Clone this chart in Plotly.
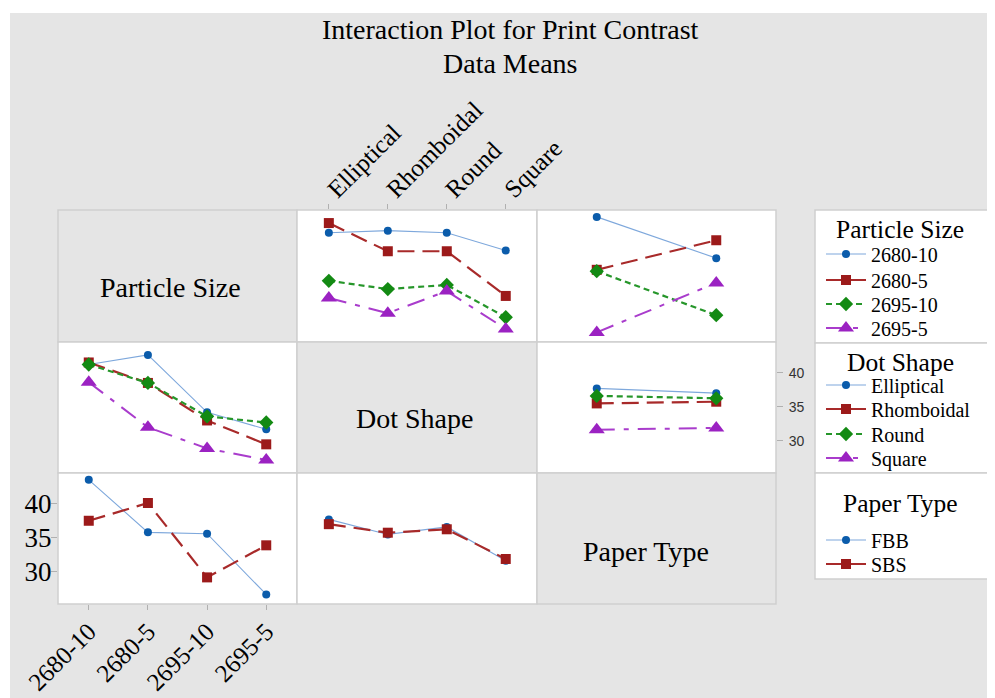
import plotly.graph_objects as go

# ---------------- data ----------------
ps_levels = ["2680-10", "2680-5", "2695-10", "2695-5"]
dot_levels = ["Elliptical", "Rhomboidal", "Round", "Square"]
paper_levels = ["FBB", "SBS"]

# mean print contrast, Particle Size (rows) x Dot Shape (cols)
ps_dot_means = [
    [41.2, 41.5, 41.2, 38.6],
    [42.6, 38.5, 38.5, 32.0],
    [34.2, 33.0, 33.6, 28.9],
    [31.7, 29.5, 32.7, 27.2],
]
# Particle Size (rows) x Paper Type (cols)
ps_paper_means = [
    [43.5, 37.5],
    [35.8, 40.1],
    [35.6, 29.2],
    [26.7, 33.9],
]
# Dot Shape (rows) x Paper Type (cols)
dot_paper_means = [
    [37.7, 37.0],
    [35.5, 35.75],
    [36.6, 36.25],
    [31.65, 31.9],
]
y_ticks = [30, 35, 40]

# ---------------- styles ----------------
OX, OY = 8, 8            # page offset of the figure inside the browser window
W, H = 995 - OX, 698 - OY
SERIF = "Liberation Serif, Times New Roman, serif"
marker_cols = ["#0b5cab", "#9c1a1a", "#138a13", "#9b22c2"]
line_cols = ["#7ea8dc", "#a82a2a", "#26962a", "#a93ccc"]
symbols = ["circle", "square", "diamond", "triangle-up"]
msizes = [8, 10, 11, 14]
dashes = ["solid", "17px,8px", "6px,4px", "18px,9px,5px,9px"]
widths = [1.1, 2.2, 2.2, 2.0]

# positions below are given in window pixels
col_px = [(58, 297), (297, 537), (537, 776)]
row_px = [(210, 342), (342, 473), (473, 604)]
xranges = [[-0.52, 3.52], [-0.54, 3.53], [-0.5, 1.5]]
x_levels = [ps_levels, dot_levels, paper_levels]
YR = [25.3, 44.5]

leg_item_y = [[254, 280, 304, 328], [385, 409, 434, 458], [540, 564]]


def fx(px):
    return (px - OX) / W


def fy(py):
    return 1 - (py - OY) / H


fig = go.Figure()


def axname(r, c):
    return r * 3 + c + 1


legend_counter = [0]
legend_layouts = {}


def new_legend(ypx):
    legend_counter[0] += 1
    n = legend_counter[0]
    key = "legend" if n == 1 else f"legend{n}"
    legend_layouts[key] = dict(
        x=fx(821), y=fy(ypx), xanchor="left", yanchor="middle",
        bgcolor="rgba(0,0,0,0)", borderwidth=0,
        font=dict(family=SERIF, size=20, color="black"),
        itemwidth=40, itemclick=False, itemdoubleclick=False)
    return key


def add_series(r, c, s, yvals, name, legend_y=None):
    k = axname(r, c)
    show = legend_y is not None
    leg = new_legend(legend_y) if show else "legend"
    fig.add_trace(go.Scatter(
        x=list(range(len(yvals))), y=yvals, name=name,
        mode="lines+markers",
        line=dict(color=line_cols[s], width=widths[s], dash=dashes[s]),
        marker=dict(color=marker_cols[s], symbol=symbols[s], size=msizes[s]),
        xaxis="x" if k == 1 else f"x{k}", yaxis="y" if k == 1 else f"y{k}",
        legend=leg, showlegend=show, hoverinfo="x+y+name",
    ))


# row 1: Particle Size traces
for i, lev in enumerate(ps_levels):
    add_series(0, 1, i, ps_dot_means[i], lev, leg_item_y[0][i])
for i, lev in enumerate(ps_levels):
    add_series(0, 2, i, ps_paper_means[i], lev)
# row 2: Dot Shape traces
for j, lev in enumerate(dot_levels):
    add_series(1, 0, j, [ps_dot_means[i][j] for i in range(4)], lev, leg_item_y[1][j])
for j, lev in enumerate(dot_levels):
    add_series(1, 2, j, dot_paper_means[j], lev)
# row 3: Paper Type traces
for p, lev in enumerate(paper_levels):
    add_series(2, 0, p, [ps_paper_means[i][p] for i in range(4)], lev, leg_item_y[2][p])
for p, lev in enumerate(paper_levels):
    add_series(2, 1, p, [dot_paper_means[j][p] for j in range(4)], lev)

layout = {}
for r in range(3):
    for c in range(3):
        k = axname(r, c)
        xk = "xaxis" if k == 1 else f"xaxis{k}"
        yk = "yaxis" if k == 1 else f"yaxis{k}"
        xa = "x" if k == 1 else f"x{k}"
        ya = "y" if k == 1 else f"y{k}"
        show_x = (r == 2 and c in (0, 2)) or (r == 0 and c == 1)
        layout[xk] = dict(
            domain=[fx(col_px[c][0]), fx(col_px[c][1])], anchor=ya,
            range=xranges[c], showgrid=False, zeroline=False, automargin=False,
            showline=False, tickvals=list(range(len(x_levels[c]))),
            ticktext=x_levels[c], showticklabels=show_x,
            ticks="outside" if show_x else "", ticklen=5, tickcolor="#b0b0b0",
            ticklabelstandoff=-9 if r == 0 else -3,
            side="top" if r == 0 else "bottom", tickangle=-45,
            tickfont=dict(family=SERIF, size=25, color="black"), fixedrange=True,
        )
        show_yl = (c == 0 and r in (0, 2))
        show_yr = (c == 2 and r == 1)
        layout[yk] = dict(
            domain=[fy(row_px[r][1]), fy(row_px[r][0])], anchor=xa,
            range=YR, showgrid=False, zeroline=False, showline=False, automargin=False,
            tickvals=y_ticks, showticklabels=show_yl or show_yr,
            ticks="outside" if (show_yl or show_yr) else "", ticklen=6,
            tickcolor="#b0b0b0",
            ticklabelstandoff=-6 if show_yl else 3,
            side="right" if show_yr else "left",
            tickfont=(dict(family=SERIF, size=27, color="black") if show_yl
                      else dict(family="Liberation Sans, Arial, sans-serif", size=14, color="#333333")),
            fixedrange=True,
        )

shapes = [dict(type="rect", xref="paper", yref="paper", x0=fx(10), x1=1.0,
               y0=0, y1=fy(13), fillcolor="#e5e5e5", line=dict(width=0), layer="below")]
for r in range(3):
    for c in range(3):
        shapes.append(dict(
            type="rect", xref="paper", yref="paper",
            x0=fx(col_px[c][0]), x1=fx(col_px[c][1]),
            y0=fy(row_px[r][1]), y1=fy(row_px[r][0]),
            fillcolor="#e5e5e5" if r == c else "white",
            line=dict(color="#cfcfcf", width=1.5), layer="below"))
leg_boxes = [(210, 343), (343, 473), (473, 579)]
for (t, b) in leg_boxes:
    shapes.append(dict(type="rect", xref="paper", yref="paper",
                       x0=fx(815), x1=fx(1005), y0=fy(b), y1=fy(t),
                       fillcolor="white", line=dict(color="#cfcfcf", width=1.5),
                       layer="below"))

annotations = [
    dict(text="Interaction Plot for Print Contrast", x=fx(510), y=fy(30),
         xref="paper", yref="paper", showarrow=False, xanchor="center", yanchor="middle",
         font=dict(family=SERIF, size=28, color="black")),
    dict(text="Data Means", x=fx(510), y=fy(63), xref="paper", yref="paper",
         showarrow=False, xanchor="center", yanchor="middle",
         font=dict(family=SERIF, size=28, color="black")),
]
diag_labels = ["Particle Size", "Dot Shape", "Paper Type"]
diag_pos = [(170, 287), (414, 418), (646, 551)]
for lab, (xx, yy) in zip(diag_labels, diag_pos):
    annotations.append(dict(
        text=lab, x=fx(xx), y=fy(yy), xref="paper", yref="paper",
        xanchor="center", yanchor="middle",
        showarrow=False, font=dict(family=SERIF, size=28, color="black")))
leg_titles = [("Particle Size", 229), ("Dot Shape", 362), ("Paper Type", 503)]
for lab, yy in leg_titles:
    annotations.append(dict(text=lab, x=fx(900), y=fy(yy), xref="paper", yref="paper",
                            xanchor="center", yanchor="middle",
                            showarrow=False, font=dict(family=SERIF, size=25.5, color="black")))

fig.update_layout(
    width=W, height=H, autosize=False,
    margin=dict(l=0, r=0, t=0, b=0),
    paper_bgcolor="white", plot_bgcolor="rgba(0,0,0,0)",
    shapes=shapes, annotations=annotations,
    **legend_layouts,
    **layout,
)

fig.write_html("out.html")
